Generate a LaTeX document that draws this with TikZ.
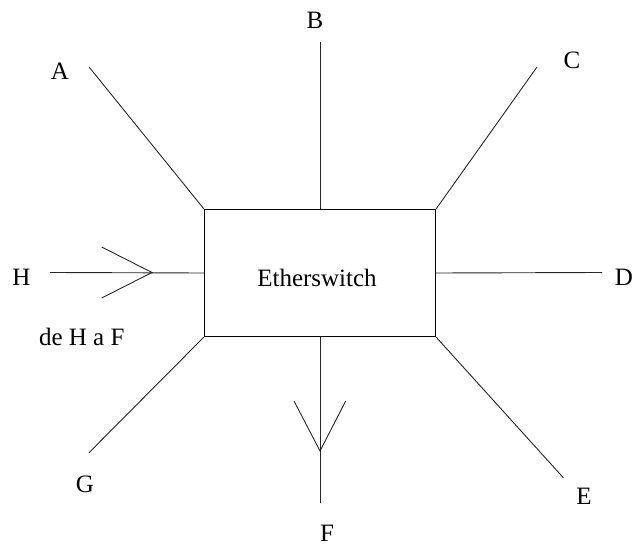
\documentclass[tikz,border=0pt]{standalone}
\usepackage{fontspec}
\setmainfont{Liberation Serif}
\begin{document}
\begin{tikzpicture}[x=1pt,y=-1pt,
  lbl/.style={anchor=base,inner sep=0pt,font=\fontsize{25}{30}\selectfont},
  wire/.style={line width=0.9pt,draw=black!85},
  swbox/.style={draw,line width=0.9pt,minimum width=231.5pt,minimum height=127.5pt,inner sep=0pt,font=\fontsize{25}{30}\selectfont}]
\useasboundingbox (0,0) rectangle (632,545);
\node[swbox] (sw) at (320,273) {};
\node[lbl] (ethl) at (317,286.5) {Etherswitch};
% end coordinates
\coordinate (a) at (89.3,67.3);
\coordinate (b) at (320,41.7);
\coordinate (c) at (537,67);
\coordinate (d) at (602,272.5);
\coordinate (e) at (563.3,477.7);
\coordinate (f) at (320,503);
\coordinate (g) at (89,452.7);
\coordinate (h) at (50,272.5);
\coordinate (ht) at (152,272.5);
\coordinate (ht1) at (101.7,247);
\coordinate (ht2) at (101.7,298);
\coordinate (ft) at (320,451);
\coordinate (ft1) at (294,401);
\coordinate (ft2) at (345.7,401);
\draw[wire] (a) -- (sw.north west);
\draw[wire] (b) -- (sw.north);
\draw[wire] (c) -- (sw.north east);
\draw[wire] (sw.east) -- (d);
\draw[wire] (sw.south east) -- (e);
\draw[wire] (sw.south) -- (f);
\draw[wire] (sw.south west) -- (g);
\draw[wire] (h) -- (sw.west);
\draw[wire] (ht1) -- (ht) -- (ht2);
\draw[wire] (ft1) -- (ft) -- (ft2);
% labels
\node[lbl] (la) at (60,79.3) {A};
\node[lbl] (lb) at (315,28.3) {B};
\node[lbl] (lc) at (572,68.3) {C};
\node[lbl] (ld) at (624,285.7) {D};
\node[lbl] (le) at (584,504.3) {E};
\node[lbl] (lf) at (327,541.5) {F};
\node[lbl] (lg) at (85,492.3) {G};
\node[lbl] (lh) at (21.3,286) {H};
\node[lbl] (lhf) at (81.7,345.7) {de H a F};
\end{tikzpicture}
\end{document}
